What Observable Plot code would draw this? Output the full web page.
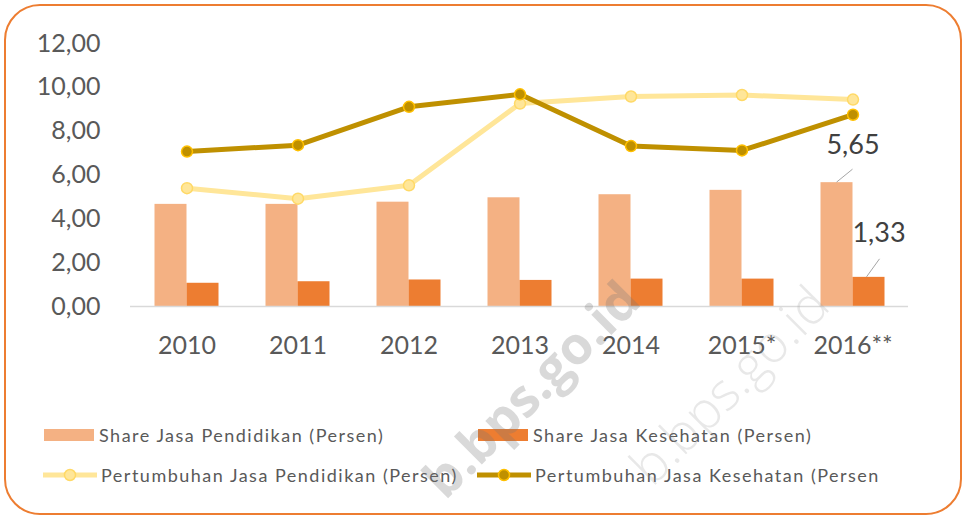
<!DOCTYPE html>
<html>
<head>
<meta charset="utf-8">
<script src="https://cdn.jsdelivr.net/npm/d3@7"></script>
<script src="https://cdn.jsdelivr.net/npm/@observablehq/plot@0.6"></script>
<style>
  html, body { margin: 0; padding: 0; background: #fff; }
  #wrap { position: relative; width: 964px; height: 517px; overflow: hidden; font-family: Lato, "Open Sans", sans-serif; }
  #frame { position: absolute; left: 4px; top: 4px; width: 958px; height: 511px; box-sizing: border-box;
           border: 2px solid #ED7D31; border-radius: 36px; }
  #chart { position: absolute; left: 0; top: 0; }
  .leg { position: absolute; display: flex; align-items: center; font-size: 18px; letter-spacing: 1.5px; color: #595959; white-space: nowrap; }
  .leg svg { margin-right: 3px; }
  .wm { position: absolute; transform: translate(-50%, -50%) rotate(-45deg); white-space: nowrap; font-family: "Open Sans", sans-serif; font-size: 52px; line-height: 1; pointer-events: none; }
</style>
</head>
<body>
<div id="wrap">
  <div id="frame"></div>
  <div id="chart"></div>
</div>
<script>
const years = ["2010", "2011", "2012", "2013", "2014", "2015*", "2016**"];
const shareDidik = [4.66, 4.66, 4.76, 4.96, 5.10, 5.30, 5.65];
const shareSehat = [1.06, 1.13, 1.21, 1.19, 1.25, 1.25, 1.33];
const tumbuhDidik = [5.40, 4.92, 5.53, 9.26, 9.58, 9.65, 9.44];
const tumbuhSehat = [7.07, 7.36, 9.11, 9.68, 7.32, 7.12, 8.75];
const yTicks = [0, 2, 4, 6, 8, 10, 12];
const seriesNames = [
  "Share Jasa Pendidikan (Persen)",
  "Share Jasa Kesehatan (Persen)",
  "Pertumbuhan Jasa Pendidikan (Persen)",
  "Pertumbuhan Jasa Kesehatan (Persen"
];
const colors = ["#F4B183", "#ED7D31", "#FFE699", "#BF9000"];

const rows = years.map((year, i) => ({
  year, shareDidik: shareDidik[i], shareSehat: shareSehat[i],
  tumbuhDidik: tumbuhDidik[i], tumbuhSehat: tumbuhSehat[i]
}));
const last = rows.slice(-1);
const fmt = d => d.toFixed(2).replace(".", ",");

// leader lines for the data labels, drawn through the plot's scales
function leaders(index, scales) {
  const x = scales.x, y = scales.y;
  const bw = x.bandwidth ? x.bandwidth() : 0;
  const d = last[0];
  const cx = x(d.year) + bw / 2;
  const g = d3.create("svg:g").attr("stroke", "#A6A6A6").attr("stroke-width", 1);
  g.append("line").attr("x1", cx - 16).attr("y1", y(d.shareDidik)).attr("x2", cx).attr("y2", y(d.shareDidik) - 13);
  g.append("line").attr("x1", cx + 14).attr("y1", y(d.shareSehat)).attr("x2", cx + 27).attr("y2", y(d.shareSehat) - 18);
  return g.node();
}

const chart = Plot.plot({
  width: 964,
  height: 380,
  marginLeft: 130,
  marginRight: 56,
  marginTop: 43,
  marginBottom: 74,
  style: { fontFamily: "Lato, 'Open Sans', sans-serif", background: "transparent", overflow: "visible" },
  x: { domain: years, padding: 0, label: null, tickSize: 0, tickPadding: 30 },
  y: { domain: [0, 12], ticks: yTicks, tickFormat: fmt, label: null, tickSize: 0, tickPadding: 30 },
  marks: [
    Plot.axisY({ ticks: yTicks, tickFormat: fmt, tickSize: 0, tickPadding: 30, fontSize: 25, color: "#595959", label: null }),
    Plot.axisX({ tickSize: 0, tickPadding: 30, fontSize: 25, color: "#595959", label: null }),
    Plot.barY(rows, { x: "year", y: "shareDidik", fill: colors[0], insetLeft: 23.5, insetRight: 55.5 }),
    Plot.barY(rows, { x: "year", y: "shareSehat", fill: colors[1], insetLeft: 55.5, insetRight: 23.5 }),
    Plot.ruleY([0], { stroke: "#D9D9D9", strokeWidth: 1.5 }),
    Plot.line(rows, { x: "year", y: "tumbuhDidik", stroke: colors[2], strokeWidth: 5, curve: "linear" }),
    Plot.dot(rows, { x: "year", y: "tumbuhDidik", r: 5.5, fill: colors[2], stroke: "#FFD966", strokeWidth: 1.5 }),
    Plot.line(rows, { x: "year", y: "tumbuhSehat", stroke: colors[3], strokeWidth: 5, curve: "linear" }),
    Plot.dot(rows, { x: "year", y: "tumbuhSehat", r: 5.5, fill: colors[3], stroke: "#FFC000", strokeWidth: 1.5 }),
    leaders,
    Plot.text(last, { x: "year", y: "shareDidik", text: d => fmt(d.shareDidik), dy: -37, fontSize: 27, fill: "#404040" }),
    Plot.text(last, { x: "year", y: "shareSehat", text: d => fmt(d.shareSehat), dx: 26, dy: -44, fontSize: 27, fill: "#404040" })
  ]
});
document.getElementById("chart").appendChild(chart);

// legend below the plot
const wrap = document.getElementById("wrap");
const legPos = [[44, 435], [478, 435], [43, 475], [477, 475]];
seriesNames.forEach((name, i) => {
  const item = document.createElement("div");
  item.className = "leg";
  item.style.left = legPos[i][0] + "px";
  item.style.top = (legPos[i][1] - 12) + "px";
  item.style.height = "24px";
  let sw;
  if (i < 2) {
    sw = `<svg width="52" height="14"><rect x="0" y="1" width="50" height="12" fill="${colors[i]}"/></svg>`;
  } else {
    const ring = i === 2 ? "#FFD966" : "#FFC000";
    sw = `<svg width="55" height="14"><line x1="0" x2="54" y1="7" y2="7" stroke="${colors[i]}" stroke-width="5"/><circle cx="27" cy="7" r="5.5" fill="${colors[i]}" stroke="${ring}" stroke-width="1.5"/></svg>`;
  }
  item.innerHTML = sw + `<span>${name}</span>`;
  wrap.appendChild(item);
});

// faint source watermarks seen in the reference
[[530, 388, "b.bps.go.id", 700, "rgba(120,120,120,0.28)"], [728, 384, "b.bps.go.id", 300, "rgba(150,150,150,0.22)"]].forEach(([x, y, t, w, c]) => {
  const s = document.createElement("div");
  s.className = "wm";
  s.style.left = x + "px";
  s.style.top = y + "px";
  s.style.fontWeight = w;
  s.style.color = c;
  s.textContent = t;
  wrap.appendChild(s);
});
</script>
</body>
</html>
